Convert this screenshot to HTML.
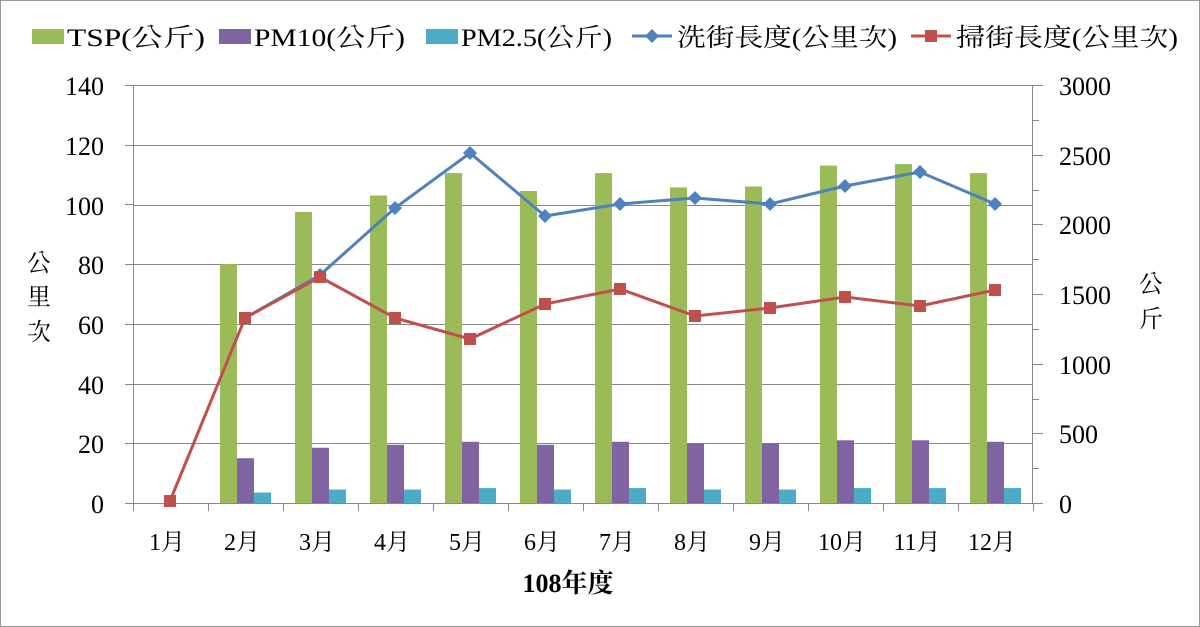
<!DOCTYPE html>
<html><head><meta charset="utf-8"><style>
html,body{margin:0;padding:0;background:#fff}
svg{display:block}
text{font-family:"Liberation Serif","Noto Serif CJK TC","Noto Serif CJK SC",serif;fill:#000}
</style></head><body>
<svg width="1200" height="627" viewBox="0 0 1200 627" xmlns="http://www.w3.org/2000/svg">
<rect x="0.5" y="0.5" width="1199" height="626" fill="#fff" stroke="#999"/>
<g stroke="#888" stroke-width="1">
<line x1="133" y1="85.5" x2="1033" y2="85.5"/>
<line x1="133" y1="145.5" x2="1033" y2="145.5"/>
<line x1="133" y1="205.5" x2="1033" y2="205.5"/>
<line x1="133" y1="264.5" x2="1033" y2="264.5"/>
<line x1="133" y1="324.5" x2="1033" y2="324.5"/>
<line x1="133" y1="384.5" x2="1033" y2="384.5"/>
<line x1="133" y1="443.5" x2="1033" y2="443.5"/>
<line x1="133.5" y1="85" x2="133.5" y2="503"/>
<line x1="1032.5" y1="85" x2="1032.5" y2="503"/>
<line x1="133" y1="503.5" x2="1033" y2="503.5"/>
</g>
<g id="ticks" stroke="#888" stroke-width="1"></g>
<g id="bars"></g>
<script>
var ns="http://www.w3.org/2000/svg";
function ln(g,x1,y1,x2,y2){var l=document.createElementNS(ns,"line");l.setAttribute("x1",x1);l.setAttribute("y1",y1);l.setAttribute("x2",x2);l.setAttribute("y2",y2);g.appendChild(l);}
var tk=document.getElementById("ticks");
for(var i=0;i<8;i++){var yy=Math.round(85+i*418/7)+0.5;ln(tk,125,yy,133,yy);}
for(var i=0;i<=12;i++){var yy=Math.round(85+i*418/12)+0.5;ln(tk,1033,yy,i%2==0?1043:1039,yy);}
for(var i=0;i<=12;i++){var xx=133.5+75*i;ln(tk,xx,503,xx,511);}
var tsp=[0,80,97.5,103,110.5,104.5,110.5,105.7,106,113,113.5,110.5];
var pm10=[0,15,18.5,19.5,20.5,19.5,20.5,20,20,21,21,20.5];
var pm25=[0,3.5,4.5,4.5,5,4.5,5,4.5,4.5,5,5,5];
function y(v){return 503-v*418/140;}
var g=document.getElementById("bars");
for(var i=0;i<12;i++){var c=170.5+75*i;
[[tsp,"#9bbb59",-25.5],[pm10,"#8064a2",-8.5],[pm25,"#4bacc6",8.5]].forEach(function(a){
var v=a[0][i];if(v<=0)return;var r=document.createElementNS(ns,"rect");
r.setAttribute("x",c+a[2]);r.setAttribute("width",17);r.setAttribute("y",y(v));r.setAttribute("height",503-y(v));r.setAttribute("fill",a[1]);g.appendChild(r);});}
</script>
<polyline fill="none" stroke="#4f81bd" stroke-width="3" points="245,318 320,275 395,208 470,153 545,216 620,204 695,198 770,204 845,186 920,172 995,204"/>
<g fill="#4f81bd">
<path d="M320,268 l7,7 -7,7 -7,-7z"/><path d="M395,201 l7,7 -7,7 -7,-7z"/><path d="M470,146 l7,7 -7,7 -7,-7z"/><path d="M545,209 l7,7 -7,7 -7,-7z"/><path d="M620,197 l7,7 -7,7 -7,-7z"/><path d="M695,191 l7,7 -7,7 -7,-7z"/><path d="M770,197 l7,7 -7,7 -7,-7z"/><path d="M845,179 l7,7 -7,7 -7,-7z"/><path d="M920,165 l7,7 -7,7 -7,-7z"/><path d="M995,197 l7,7 -7,7 -7,-7z"/>
</g>
<polyline fill="none" stroke="#c0504d" stroke-width="3" points="170,501 245,318 320,277 395,318 470,339 545,304 620,289 695,316 770,308 845,297 920,306 995,290"/>
<g fill="#c0504d">
<rect x="164" y="495" width="12" height="12"/><rect x="239" y="312" width="12" height="12"/><rect x="314" y="271" width="12" height="12"/><rect x="389" y="312" width="12" height="12"/><rect x="464" y="333" width="12" height="12"/><rect x="539" y="298" width="12" height="12"/><rect x="614" y="283" width="12" height="12"/><rect x="689" y="310" width="12" height="12"/><rect x="764" y="302" width="12" height="12"/><rect x="839" y="291" width="12" height="12"/><rect x="914" y="300" width="12" height="12"/><rect x="989" y="284" width="12" height="12"/>
</g>
<g font-size="26" text-anchor="end">
<text x="104" y="95">140</text><text x="104" y="155">120</text><text x="104" y="215">100</text><text x="104" y="274">80</text><text x="104" y="334">60</text><text x="104" y="394">40</text><text x="104" y="453">20</text><text x="104" y="513">0</text>
</g>
<g font-size="26" text-anchor="start">
<text x="1059" y="95">3000</text><text x="1059" y="165">2500</text><text x="1059" y="234">2000</text><text x="1059" y="304">1500</text><text x="1059" y="374">1000</text><text x="1059" y="443">500</text><text x="1059" y="513">0</text>
</g>
<g font-size="24" text-anchor="middle">
<text x="167" y="550">1月</text><text x="242" y="550">2月</text><text x="317" y="550">3月</text><text x="392" y="550">4月</text><text x="467" y="550">5月</text><text x="542" y="550">6月</text><text x="617" y="550">7月</text><text x="692" y="550">8月</text><text x="767" y="550">9月</text><text x="842" y="550">10月</text><text x="917" y="550">11月</text><text x="992" y="550">12月</text>
<text x="568" y="592" font-weight="bold" font-size="26">108年度</text>
<text x="39" y="271">公</text><text x="39" y="305">里</text><text x="39" y="340">次</text>
<text x="1151" y="292">公</text><text x="1151" y="327">斤</text>
</g>
<g font-size="25">
<rect x="32" y="29" width="32" height="15" fill="#9bbb59"/><text x="67" y="46" textLength="138" lengthAdjust="spacingAndGlyphs">TSP(公斤)</text>
<rect x="219" y="29" width="32" height="15" fill="#8064a2"/><text x="254" y="46" textLength="151" lengthAdjust="spacingAndGlyphs">PM10(公斤)</text>
<rect x="426" y="29" width="32" height="15" fill="#4bacc6"/><text x="461" y="46" textLength="151" lengthAdjust="spacingAndGlyphs">PM2.5(公斤)</text>
<line x1="632" y1="36" x2="672" y2="36" stroke="#4f81bd" stroke-width="3"/><path d="M652,29 l7,7 -7,7 -7,-7z" fill="#4f81bd"/><text x="677" y="46" textLength="220" lengthAdjust="spacingAndGlyphs">洗街長度(公里次)</text>
<line x1="911" y1="36" x2="951" y2="36" stroke="#c0504d" stroke-width="3"/><rect x="925" y="30" width="12" height="12" fill="#c0504d"/><text x="956" y="46" textLength="222" lengthAdjust="spacingAndGlyphs">掃街長度(公里次)</text>
</g>
</svg>
</body></html>
